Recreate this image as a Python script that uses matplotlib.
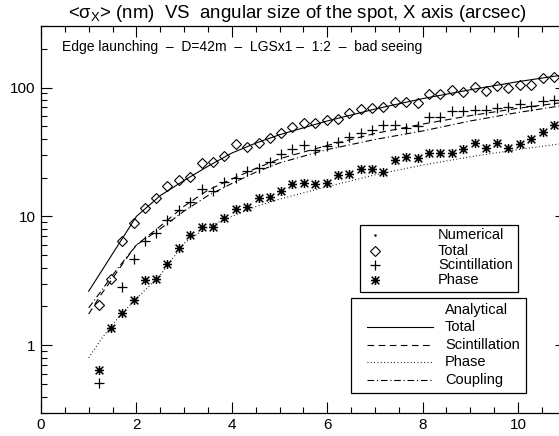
import numpy as np
import matplotlib
matplotlib.use("Agg")
import matplotlib.pyplot as plt
from matplotlib.path import Path
from matplotlib.patches import Rectangle
from matplotlib.ticker import MultipleLocator, LogLocator, FixedLocator, NullFormatter

plt.rcParams['font.family'] = ['Liberation Sans', 'DejaVu Sans']
plt.rcParams['mathtext.fontset'] = 'custom'
plt.rcParams['mathtext.rm'] = 'Liberation Sans'

# ---------------- data ----------------
spot_x = [1.22, 1.46, 1.70, 1.94, 2.17, 2.41, 2.65, 2.89, 3.13, 3.37,
          3.60, 3.84, 4.08, 4.32, 4.56, 4.80, 5.03, 5.27, 5.51, 5.75,
          5.99, 6.23, 6.46, 6.70, 6.94, 7.18, 7.42, 7.66, 7.90, 8.13,
          8.37, 8.61, 8.85, 9.09, 9.33, 9.56, 9.80, 10.04, 10.28, 10.52, 10.75]

num_total = [2.04, 3.27, 6.50, 8.91, 11.7, 13.9, 17.2, 19.05, 20.1, 26.1,
             26.5, 29.6, 36.7, 34.6, 37.3, 40.9, 44.7, 49.8, 52.9, 52.9,
             56.1, 57.4, 63.2, 67.9, 69.1, 71.2, 77.8, 77.8, 75.3, 88.9,
             88.9, 95.4, 93.1, 101.8, 94.3, 103.1, 98.9, 105.0, 105.0, 117.5, 121.0]

num_scint = [0.508, np.nan, 2.81, 4.70, 6.43, 7.38, 9.41, 11.25, 13.0, 16.2,
             15.7, 18.5, 19.7, 22.5, 23.9, 26.4, 30.3, 33.6, 35.7, 32.8,
             35.2, 37.8, 41.6, 44.7, 46.9, 51.0, 51.0, 48.9, 50.4, 59.2,
             59.2, 65.9, 65.9, 67.1, 67.1, 69.9, 71.1, 74.3, 72.1, 78.8, 79.8]

num_phase = [0.641, 1.36, 1.77, 2.23, 3.23, 3.28, 4.30, 5.64, 7.18, 8.26,
             8.26, 9.65, 11.5, 11.8, 13.95, 14.1, 15.7, 17.7, 18.2, 17.9,
             18.0, 21.1, 21.4, 23.2, 23.2, 22.2, 27.2, 28.7, 28.2, 31.3,
             31.3, 31.3, 33.6, 37.4, 34.0, 37.4, 33.8, 36.3, 40.1, 45.5, 51.5]

an_x = [1.0, 1.25, 1.5, 1.75, 2.0, 2.5, 3.0, 3.5, 4.0, 4.5, 5.0, 6.0, 7.0, 8.0, 9.0, 10.0, 11.0]
an_total = [2.63, 3.67, 5.13, 7.16, 10.0, 14.5, 19.0, 24.5, 31.0, 37.0, 43.0, 55.0, 68.0, 82.0, 96.0, 111.0, 126.0]
an_scint = [1.75, 2.45, 3.3, 4.5, 6.0, 8.4, 12.0, 16.0, 19.5, 23.5, 28.0, 35.5, 44.0, 52.0, 60.5, 69.0, 77.0]
an_phase = [0.80, 1.10, 1.45, 1.85, 2.30, 3.50, 6.2, 8.3, 10.0, 11.9, 13.6, 17.0, 21.0, 25.0, 29.0, 33.0, 37.0]
an_coupl = [1.95, 2.6, 3.5, 4.6, 6.0, 8.0, 11.0, 14.5, 18.0, 22.0, 26.0, 33.0, 39.5, 46.0, 55.0, 64.0, 73.0]

title = r'<$\mathregular{\sigma_X}$> (nm)  VS  angular size of the spot, X axis (arcsec)'
note = 'Edge launching  \u2013  D=42m  \u2013  LGSx1 \u2013  1:2  \u2013  bad seeing'
num_labels = ['Numerical', 'Total', 'Scintillation', 'Phase']
an_labels = ['Analytical', 'Total', 'Scintillation', 'Phase', 'Coupling']

# ---------------- figure ----------------
W, H = 559, 436
fig = plt.figure(figsize=(W / 100, H / 100), dpi=100)

def fx(p):
    return p / W

def fy(p):
    return 1 - p / H

ax_l, ax_r, ax_t, ax_b = 41, 565.7, 26, 412.7
ax = fig.add_axes([fx(ax_l), fy(ax_b), (ax_r - ax_l) / W, (ax_b - ax_t) / H])

ast = Path([(0, -1), (0, 1), (-0.85, -0.85), (0.85, 0.85), (-0.85, 0.85), (0.85, -0.85), (-1, 0), (1, 0)],
           [Path.MOVETO, Path.LINETO, Path.MOVETO, Path.LINETO, Path.MOVETO, Path.LINETO, Path.MOVETO, Path.LINETO])

lw = 0.8
ax.plot(an_x, an_total, color='black', lw=lw, ls='-')
ax.plot(an_x, an_scint, color='black', lw=lw, ls=(0, (6, 4)))
ax.plot(an_x, an_phase, color='black', lw=lw, ls=(0, (0.8, 2.2)))
ax.plot(an_x, an_coupl, color='black', lw=lw, ls=(0, (6, 2.5, 1, 2.5)))

mk_d = dict(marker='D', ms=5.3, mfc='none', mec='black', mew=0.8)
mk_p = dict(marker='+', ms=6.8, mec='black', mew=0.9)
mk_a = dict(marker=ast, ms=6.5, mec='black', mew=1.1)

ax.plot(spot_x, num_total, ls='none', **mk_d)
ax.plot(spot_x, num_scint, ls='none', **mk_p)
ax.plot(spot_x, num_phase, ls='none', **mk_a)

ax.set_yscale('log')
ax.set_xlim(0, 11)
ax.set_ylim(0.3, 300)
ax.xaxis.set_major_locator(MultipleLocator(2))
ax.xaxis.set_minor_locator(MultipleLocator(0.5))
ax.yaxis.set_major_locator(FixedLocator([1, 10, 100]))
ax.yaxis.set_minor_locator(LogLocator(base=10, subs=np.arange(2, 10)))
ax.yaxis.set_minor_formatter(NullFormatter())
ax.set_yticklabels(['1', '10', '100'])
ax.tick_params(which='both', direction='in', top=True, right=True, color='black', width=0.8)
ax.tick_params(which='major', length=8, labelsize=11, pad=4)
ax.tick_params(which='minor', length=4)
for s in ax.spines.values():
    s.set_linewidth(0.9)

# overlay in pixel coordinates for text & legends
ov = fig.add_axes([0, 0, 1, 1], zorder=5)
ov.set_xlim(0, W)
ov.set_ylim(H, 0)
ov.axis('off')
ov.patch.set_alpha(0)

ov.text(297, 13, title, fontsize=13.4, ha='center', va='center')
ov.text(62, 47, note, fontsize=10, ha='left', va='center')

# numerical legend
ov.add_patch(Rectangle((360, 225), 158.3, 66.7, fill=False, ec='black', lw=0.9))
rows1 = [235, 250.7, 265, 280]
ov.plot([375], [rows1[0]], marker='.', ms=1.5, color='black')
ov.plot([375], [rows1[1]], **mk_d)
ov.plot([375], [rows1[2]], **mk_p)
ov.plot([375], [rows1[3]], **mk_a)
for lab, yy in zip(num_labels, rows1):
    ov.text(438, yy, lab, fontsize=10.5, ha='left', va='center')

# analytical legend
ov.add_patch(Rectangle((351, 297.7), 174.7, 95.6, fill=False, ec='black', lw=0.9))
rows2 = [310, 327.3, 345, 361.7, 380]
styles = ['-', (0, (6, 4)), (0, (0.8, 2.2)), (0, (6, 2.5, 1, 2.5))]
for lab, yy in zip(an_labels, rows2):
    ov.text(445, yy, lab, fontsize=10.5, ha='left', va='center')
for st, yy in zip(styles, rows2[1:]):
    ov.plot([367.3, 432.7], [yy, yy], color='black', lw=lw, ls=st)

fig.savefig('out.png', dpi=100)
